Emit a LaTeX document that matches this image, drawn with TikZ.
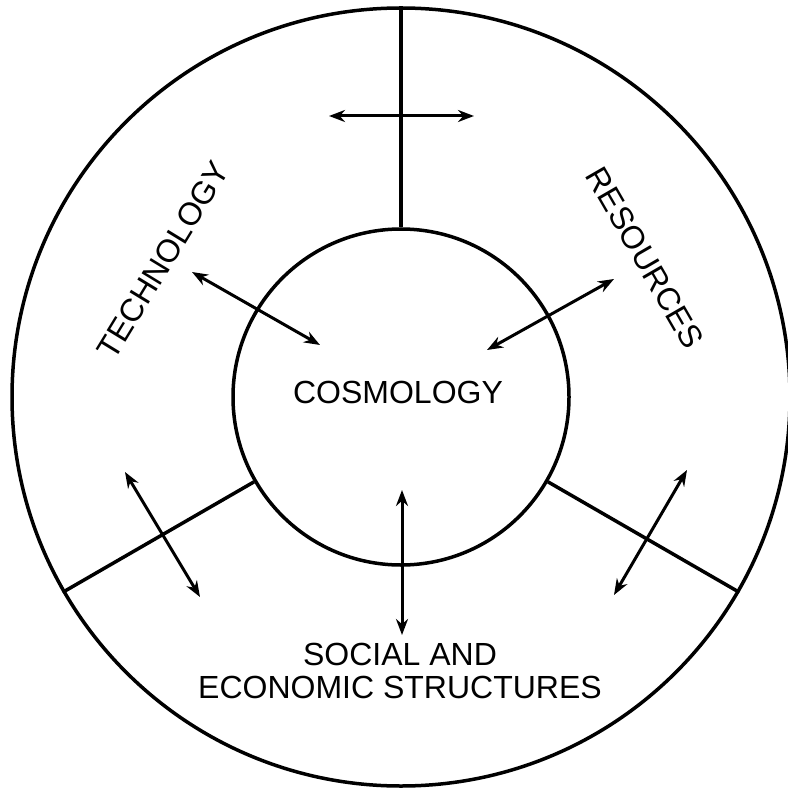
\documentclass[tikz,border=0pt]{standalone}
\usepackage{fontspec}
\setmainfont{Liberation Sans}
\usetikzlibrary{arrows.meta}

\begin{document}
\begin{tikzpicture}[x=1pt,y=-1pt,line width=3.5pt,
    ring/.style={circle,draw,inner sep=0pt},
    twoway/.style={{Stealth[length=16pt,width=12pt]}-{Stealth[length=16pt,width=12pt]}},
    lbl/.style={font=\fontsize{32}{33}\selectfont}]
   \useasboundingbox (0,0) rectangle (787,791);

   \node[ring,minimum size=778pt] (rim) at (401,397) {};
   \node[ring,minimum size=336pt] (core) at (401,397) {};

      \draw (rim.90) -- (core.90);
      \draw (core.210) -- (rim.210);
      \draw (core.330) -- (rim.330);

   \node[lbl] (cosmology) at (398,392) {COSMOLOGY};
   \node[lbl,rotate=58.6] (technology) at (163,260) {TECHNOLOGY};
   \node[lbl,rotate=-60] (resources) at (645,258) {RESOURCES};
   \node[lbl,align=center] (social) at (400,671) {SOCIAL AND\\ECONOMIC STRUCTURES};

   \coordinate (topL) at (329,116);   \coordinate (topR) at (474,116);
   \coordinate (techO) at (192,272);  \coordinate (techI) at (320,345);
   \coordinate (resO) at (614,279);   \coordinate (resI) at (487,350);
   \coordinate (llU) at (125,472);    \coordinate (llD) at (200,597);
   \coordinate (midU) at (402,490);   \coordinate (midD) at (402,635);
   \coordinate (lrU) at (687,470);    \coordinate (lrD) at (614,595);

      \draw[twoway,line width=3pt] (topL) -- (topR);
      \draw[twoway,line width=3pt] (techO) -- (techI);
      \draw[twoway,line width=3pt] (resO) -- (resI);
      \draw[twoway,line width=3pt] (llU) -- (llD);
      \draw[twoway,line width=3pt] (midU) -- (midD);
      \draw[twoway,line width=3pt] (lrU) -- (lrD);

\end{tikzpicture}
\end{document}
